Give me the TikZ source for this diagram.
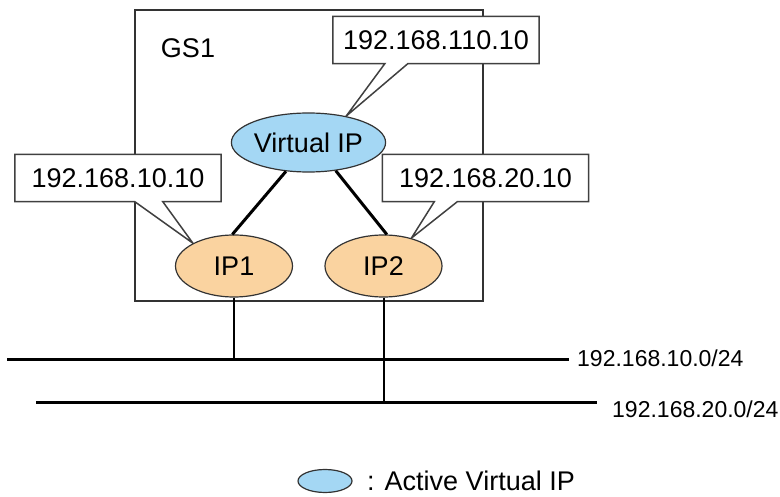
\documentclass[tikz,border=0pt]{standalone}
\usepackage{fontspec}
\setmainfont{Liberation Sans}
\usetikzlibrary{calc,shapes.geometric}
\pgfdeclarelayer{bg}
\pgfdeclarelayer{mid}
\pgfsetlayers{bg,mid,main}
\definecolor{vipblue}{RGB}{164,215,244}
\definecolor{iporange}{RGB}{250,211,160}
\begin{document}
\begin{tikzpicture}[x=1pt,y=-1pt,
  every node/.style={font=\fontsize{27}{32}\selectfont, inner sep=0pt},
  grpbox/.style={draw=black!80, line width=1.5pt, minimum width=348pt, minimum height=291pt},
  callout/.style={draw=black!75, fill=white, line width=1.5pt, line join=miter},
  calltext/.style={minimum width=206pt, minimum height=47pt},
  vip/.style={ellipse, draw=black!80, line width=1.2pt, fill=vipblue},
  rip/.style={ellipse, draw=black!80, line width=1.2pt, fill=iporange, minimum width=117pt, minimum height=62pt},
  link/.style={line width=3pt},
  bus/.style={line width=3pt},
  drop/.style={line width=2pt},
  netlabel/.style={font=\fontsize{23}{28}\selectfont, anchor=west}
]
\useasboundingbox (0,0) rectangle (780,497);

% group box
\begin{pgfonlayer}{bg}
\node[grpbox] (gs) at (309,155.5) {};
\end{pgfonlayer}
\node (gslabel) at (188,48) {GS1};

% ellipses
\node[vip, minimum width=149pt, minimum height=59pt] (vip) at (308.5,142.5) {Virtual IP};
\node[rip] (ip1) at (234,266) {IP1};
\node[rip] (ip2) at (383.5,266) {IP2};

% callout texts
\node[calltext] (c0) at (436,40) {192.168.110.10};
\node[calltext] (c1) at (118,178) {192.168.10.10};
\node[calltext] (c2) at (485.5,178) {192.168.20.10};

% callout shapes
\begin{pgfonlayer}{mid}
\path[callout] (c0.north west) -- (c0.north east) -- (c0.south east)
  -- ($(c0.south west)+(75,0)$) -- (vip.35) -- ($(c0.south west)+(52,0)$)
  -- (c0.south west) -- cycle;
\path[callout] (c1.north west) -- (c1.north east) -- (c1.south east)
  -- ($(c1.south west)+(148,0)$) -- (ip1.151) -- ($(c1.south west)+(120,0)$)
  -- (c1.south west) -- cycle;
\path[callout] (c2.north west) -- (c2.north east) -- (c2.south east)
  -- ($(c2.south west)+(75,0)$) -- (ip2.45) -- ($(c2.south west)+(52,0)$)
  -- (c2.south west) -- cycle;
\end{pgfonlayer}

% links virtual IP to physical IPs
\draw[link] (vip.-128) -- (ip1.93);
\draw[link] (vip.-46) -- (ip2.84);

% networks
\coordinate (b1w) at (7,360);
\coordinate (b1e) at (569,360);
\coordinate (b2w) at (36,402);
\coordinate (b2e) at (597,402);
\draw[bus] (b1w) -- (b1e);
\draw[bus] (b2w) -- (b2e);
\draw[drop] (ip1.south) -- (ip1.south |- b1w);
\draw[drop] (ip2.south) -- (ip2.south |- b2w);
\node[netlabel] (n1) at (577,358) {192.168.10.0/24};
\node[netlabel] (n2) at (612,409) {192.168.20.0/24};

% legend
\node[vip, minimum width=54pt, minimum height=23pt] (leg) at (325,481) {};
\node[anchor=west] (legtext) at (367,481) {: Active Virtual IP};
\end{tikzpicture}
\end{document}
